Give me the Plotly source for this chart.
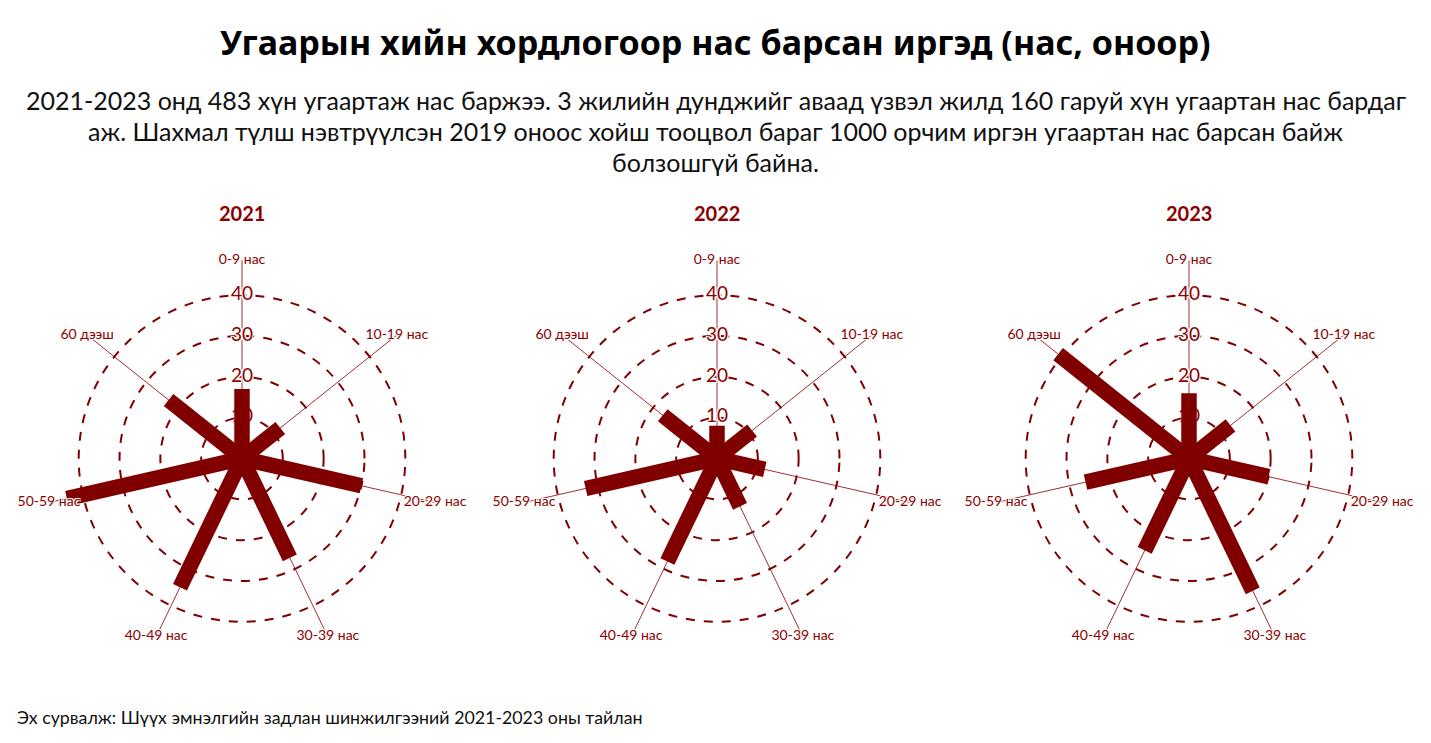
import plotly.graph_objects as go

# age groups (clockwise from top)
age_groups = ["0-9 нас", "10-19 нас", "20-29 нас", "30-39 нас", "40-49 нас", "50-59 нас", "60 дээш"]
years = ["2021", "2022", "2023"]

# deaths by age group
deaths_2021 = [17, 12, 30, 27, 35, 44, 23]
deaths_2022 = [8, 11, 12, 13, 28, 33, 17]
deaths_2023 = [16, 13, 20, 36, 25, 26, 41]

ring_vals = [10, 20, 30, 40]
ring_labels = ["10", "20", "30", "40"]

title_text = "Угаарын хийн хордлогоор нас барсан иргэд (нас, оноор)"
subtitle_lines = [
    "2021-2023 онд 483 хүн угаартаж нас баржээ. 3 жилийн дунджийг аваад үзвэл жилд 160 гаруй хүн угаартан нас бардаг",
    "аж. Шахмал түлш нэвтрүүлсэн 2019 оноос хойш тооцвол бараг 1000 орчим иргэн угаартан нас барсан байж",
    "болзошгүй байна.",
]
source_text = "Эх сурвалж: Шүүх эмнэлгийн задлан шинжилгээний 2021-2023 оны тайлан"

RED = "#800000"
TXT = "#8b0000"
FONT = "Lato"
HALO = "white 1px 1px 0px, white -1px -1px 0px, white 1px -1px 0px, white -1px 1px 0px"

# page body has an 8px margin, so the figure is 8px smaller and positions are shifted by 8
OFF = 8
W, H = 1431 - OFF, 743 - OFF
centers_x = [242 - OFF, 717 - OFF, 1189 - OFF]
center_y = 458.5 - OFF
R_MAX = 48.5
half = 198


def py(y_screen):
    # screen y (from top) -> paper y
    return (H - (y_screen - OFF)) / H


fig = go.Figure()

data = [deaths_2021, deaths_2022, deaths_2023]

for i, (yr, vals) in enumerate(zip(years, data)):
    pname = "polar" if i == 0 else f"polar{i + 1}"

    # ring values along the top spoke (drawn under the spokes)
    fig.add_trace(go.Scatterpolar(
        r=ring_vals, theta=[age_groups[0]] * len(ring_vals),
        mode="text", text=ring_labels,
        textfont=dict(family=FONT, size=19, color=TXT, shadow=HALO),
        subplot=pname, showlegend=False, hoverinfo="skip", cliponaxis=False,
    ))

    for grp, v in zip(age_groups, vals):
        fig.add_trace(go.Scatterpolar(
            r=[0, v], theta=[grp, grp],
            mode="lines",
            line=dict(color=RED, width=15.5),
            subplot=pname,
            showlegend=False,
            hoverinfo="skip",
        ))

    # category labels at the end of each axis line
    fig.add_trace(go.Scatterpolar(
        r=[R_MAX] * len(age_groups), theta=age_groups,
        mode="text", text=age_groups,
        textfont=dict(family=FONT, size=14, color=TXT, shadow=HALO),
        subplot=pname, showlegend=False, hoverinfo="skip", cliponaxis=False,
    ))

    cx = centers_x[i]
    polar = dict(
        domain=dict(
            x=[(cx - half) / W, (cx + half) / W],
            y=[(H - center_y - half) / H, (H - center_y + half) / H],
        ),
        bgcolor="white",
        radialaxis=dict(
            range=[0, R_MAX],
            tickvals=ring_vals,
            showticklabels=False,
            showline=False,
            ticks="",
            gridcolor=RED,
            griddash="dash",
            gridwidth=1.5,
            layer="below traces",
        ),
        angularaxis=dict(
            categoryarray=age_groups,
            direction="clockwise",
            rotation=90,
            showline=False,
            showticklabels=False,
            ticks="",
            gridcolor="#a03030",
            gridwidth=1,
            layer="below traces",
        ),
    )
    fig.update_layout(**{pname: polar})

annotations = [
    dict(text=f"<b>{yr}</b>", x=cx / W, y=py(213), xref="paper", yref="paper",
         xanchor="center", yanchor="middle",
         showarrow=False, font=dict(family=FONT, size=20, color=TXT))
    for yr, cx in zip(years, centers_x)
]
annotations.append(dict(text=f"<b>{title_text}</b>", x=(715.5 - OFF) / W, y=py(42), xref="paper", yref="paper",
                        xanchor="center", yanchor="middle",
                        showarrow=False, font=dict(family="Noto Sans", size=34, color="black")))
for line, yy in zip(subtitle_lines, [100, 131, 162]):
    annotations.append(dict(text=line, x=(715.5 - OFF) / W, y=py(yy), xref="paper", yref="paper",
                            xanchor="center", yanchor="middle",
                            showarrow=False, font=dict(family=FONT, size=25, color="#111111")))
annotations.append(dict(text=source_text, x=(15 - OFF) / W, y=py(717), xref="paper", yref="paper",
                        xanchor="left", yanchor="middle",
                        showarrow=False, font=dict(family=FONT, size=17.8, color="#111111")))

fig.update_layout(
    width=W, height=H,
    margin=dict(l=0, r=0, t=0, b=0, autoexpand=False),
    paper_bgcolor="white",
    plot_bgcolor="white",
    annotations=annotations,
    showlegend=False,
)

fig.write_html("out.html")
